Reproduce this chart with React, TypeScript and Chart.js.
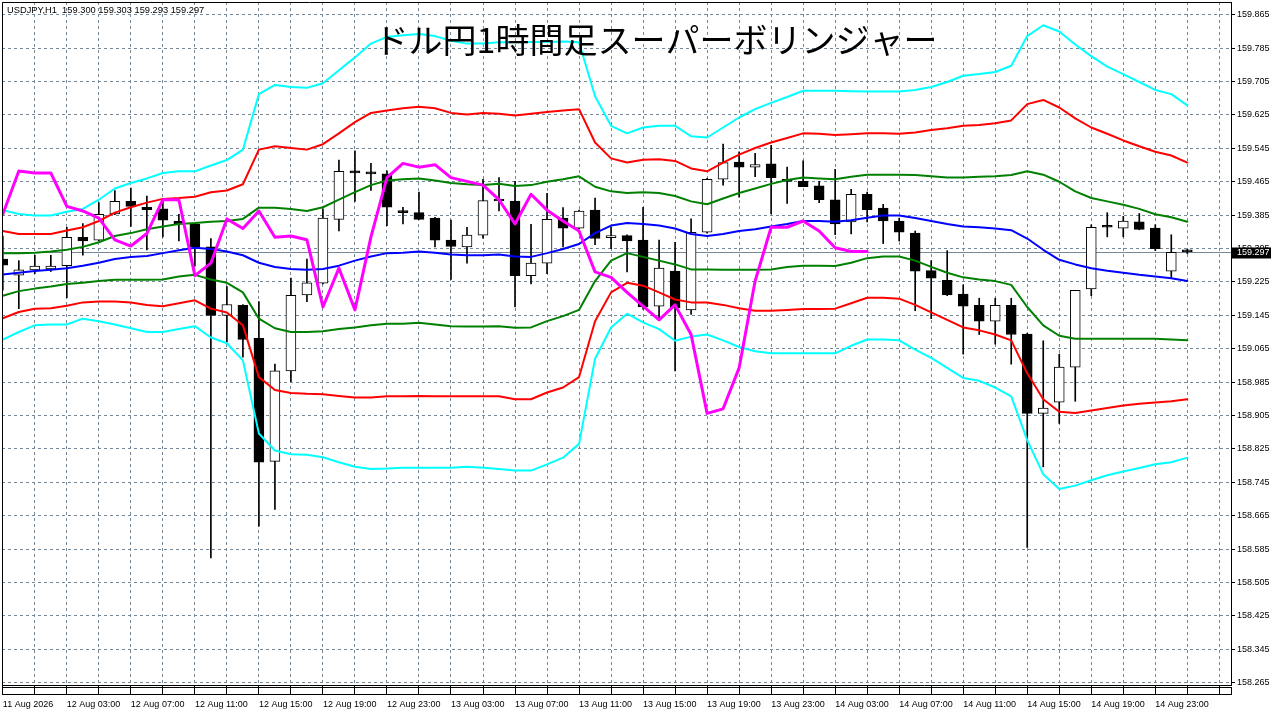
import { useEffect, useRef } from "react";
import { Chart, registerables } from "chart.js";

Chart.register(...registerables);

// USDJPY H1 candles (bar 0 = 11 Aug 23:00)
const opens = [
  159.28, 159.241, 159.254, 159.256, 159.264, 159.332, 159.325, 159.388, 159.418, 159.404,
  159.4, 159.371, 159.364, 159.309, 159.145, 159.169, 159.09, 158.795, 159.012, 159.194,
  159.222, 159.375, 159.491, 159.485, 159.484, 159.392, 159.391, 159.378, 159.325, 159.309,
  159.337, 159.421, 159.419, 159.24, 159.27, 159.378, 159.354, 159.397, 159.331, 159.336,
  159.325, 159.167, 159.251, 159.158, 159.344, 159.471, 159.512, 159.5, 159.508, 159.468,
  159.466, 159.455, 159.422, 159.369, 159.435, 159.402, 159.371, 159.342, 159.252, 159.229,
  159.196, 159.169, 159.131, 159.169, 159.1, 158.91, 158.937, 159.021, 159.208, 159.357,
  159.354, 159.369, 159.354, 159.251, 159.3,
];
const highs = [
  159.335, 159.276, 159.289, 159.289, 159.356, 159.365, 159.415, 159.444, 159.45, 159.431,
  159.422, 159.387, 159.366, 159.329, 159.214, 159.171, 159.178, 159.028, 159.234, 159.28,
  159.4, 159.517, 159.539, 159.509, 159.491, 159.404, 159.44, 159.38, 159.373, 159.356,
  159.471, 159.475, 159.466, 159.363, 159.437, 159.403, 159.397, 159.426, 159.356, 159.338,
  159.404, 159.325, 159.32, 159.376, 159.473, 159.555, 159.537, 159.533, 159.552, 159.5,
  159.515, 159.466, 159.495, 159.447, 159.44, 159.411, 159.378, 159.347, 159.276, 159.3,
  159.218, 159.186, 159.186, 159.186, 159.102, 159.084, 159.052, 159.205, 159.362, 159.391,
  159.382, 159.389, 159.362, 159.338, 159.303,
];
const lows = [
  159.205, 159.161, 159.245, 159.25, 159.187, 159.289, 159.323, 159.386, 159.358, 159.302,
  159.333, 159.323, 159.263, 158.564, 159.081, 159.045, 158.64, 158.68, 158.986, 159.178,
  159.22, 159.347, 159.418, 159.444, 159.36, 159.364, 159.374, 159.309, 159.231, 159.27,
  159.33, 159.395, 159.165, 159.22, 159.245, 159.309, 159.352, 159.314, 159.305, 159.249,
  159.16, 159.138, 159.012, 159.147, 159.342, 159.457, 159.428, 159.477, 159.388, 159.413,
  159.453, 159.415, 159.338, 159.34, 159.369, 159.317, 159.323, 159.156, 159.137, 159.192,
  159.052, 159.099, 159.076, 159.028, 158.589, 158.782, 158.886, 158.939, 159.192, 159.333,
  159.333, 159.35, 159.3, 159.236, 159.293,
];
const closes = [
  159.265, 159.254, 159.263, 159.263, 159.332, 159.323, 159.387, 159.418, 159.406, 159.398,
  159.373, 159.364, 159.309, 159.145, 159.171, 159.087, 158.793, 159.012, 159.193, 159.223,
  159.378, 159.49, 159.486, 159.484, 159.404, 159.391, 159.375, 159.325, 159.31, 159.337,
  159.42, 159.419, 159.24, 159.27, 159.375, 159.354, 159.395, 159.329, 159.336, 159.323,
  159.165, 159.258, 159.163, 159.344, 159.471, 159.511, 159.5, 159.506, 159.475, 159.466,
  159.453, 159.422, 159.364, 159.435, 159.398, 159.371, 159.344, 159.251, 159.234, 159.194,
  159.167, 159.131, 159.169, 159.099, 158.91, 158.923, 159.021, 159.205, 159.356, 159.356,
  159.371, 159.351, 159.305, 159.296, 159.297,
];

// super bollinger bands
const upper3 = [
  159.397, 159.388, 159.384, 159.384, 159.393, 159.4, 159.422, 159.449, 159.462, 159.473,
  159.486, 159.49, 159.49, 159.504, 159.517, 159.542, 159.675, 159.697, 159.692, 159.69,
  159.701, 159.732, 159.763, 159.796, 159.812, 159.816, 159.819, 159.814, 159.803, 159.796,
  159.796, 159.799, 159.799, 159.8, 159.8, 159.801, 159.799, 159.67, 159.599, 159.581,
  159.595, 159.599, 159.599, 159.574, 159.571, 159.595, 159.619, 159.639, 159.654, 159.668,
  159.683, 159.683, 159.683, 159.682, 159.681, 159.681, 159.681, 159.685, 159.692, 159.704,
  159.719, 159.723, 159.728, 159.743, 159.814, 159.84, 159.825, 159.794, 159.766, 159.741,
  159.723, 159.704, 159.685, 159.675, 159.648,
];
const upper2 = [
  159.347, 159.34, 159.34, 159.34, 159.348, 159.356, 159.371, 159.391, 159.404, 159.415,
  159.424, 159.426, 159.429, 159.44, 159.444, 159.459, 159.542, 159.55, 159.546, 159.542,
  159.555, 159.581, 159.608, 159.63, 159.636, 159.641, 159.645, 159.641, 159.63, 159.626,
  159.63, 159.628, 159.624, 159.628, 159.632, 159.636, 159.639, 159.559, 159.521, 159.511,
  159.518, 159.519, 159.515, 159.497, 159.49, 159.511, 159.53, 159.546, 159.559, 159.57,
  159.581, 159.58, 159.577, 159.579, 159.581, 159.581, 159.58, 159.583, 159.589, 159.593,
  159.599, 159.601, 159.605, 159.612, 159.651, 159.661, 159.643, 159.617, 159.595, 159.58,
  159.564, 159.55, 159.537, 159.528, 159.511,
];
const upper1 = [
  159.294, 159.294, 159.295, 159.298, 159.302, 159.309, 159.32, 159.335, 159.342, 159.351,
  159.358, 159.364, 159.366, 159.369, 159.371, 159.376, 159.403, 159.403, 159.4, 159.395,
  159.404, 159.422, 159.44, 159.457, 159.468, 159.471, 159.473, 159.468, 159.462, 159.459,
  159.457, 159.46, 159.455, 159.457, 159.465, 159.471, 159.478, 159.453, 159.442, 159.438,
  159.44, 159.438, 159.431, 159.418, 159.411, 159.425, 159.438, 159.449, 159.46, 159.469,
  159.475, 159.473, 159.471, 159.477, 159.482, 159.482, 159.482, 159.481, 159.478, 159.475,
  159.475, 159.477, 159.478, 159.481, 159.49, 159.482, 159.465, 159.442, 159.426, 159.418,
  159.41, 159.4, 159.387, 159.38, 159.369,
];
const middle = [
  159.243, 159.247, 159.251, 159.254, 159.258, 159.264, 159.271, 159.28, 159.285, 159.287,
  159.294, 159.301, 159.307, 159.304, 159.298, 159.289, 159.271, 159.261, 159.256, 159.254,
  159.256, 159.264, 159.276, 159.286, 159.294, 159.295, 159.298, 159.295, 159.291, 159.289,
  159.289, 159.291, 159.286, 159.285, 159.294, 159.304, 159.316, 159.342, 159.36, 159.366,
  159.364, 159.36, 159.353, 159.34, 159.335, 159.34, 159.347, 159.351, 159.358, 159.364,
  159.371, 159.371, 159.369, 159.373, 159.379, 159.384, 159.384, 159.378, 159.371, 159.364,
  159.358, 159.356, 159.353, 159.349, 159.329, 159.302, 159.278, 159.267, 159.258, 159.252,
  159.247, 159.242, 159.238, 159.234, 159.227,
];
const lower1 = [
  159.192, 159.203, 159.209, 159.214, 159.22, 159.223, 159.227, 159.23, 159.23, 159.23,
  159.231, 159.238, 159.242, 159.231, 159.223, 159.2, 159.137, 159.114, 159.105, 159.105,
  159.107, 159.112, 159.116, 159.121, 159.125, 159.125, 159.127, 159.123, 159.119, 159.118,
  159.118, 159.119, 159.115, 159.116, 159.131, 159.143, 159.158, 159.227, 159.276, 159.294,
  159.285, 159.276, 159.267, 159.255, 159.255, 159.254, 159.254, 159.254, 159.255, 159.261,
  159.264, 159.264, 159.263, 159.271, 159.282, 159.286, 159.286, 159.276, 159.261, 159.247,
  159.236, 159.231, 159.227, 159.218, 159.165, 159.121, 159.096, 159.089, 159.089, 159.089,
  159.089, 159.089, 159.089, 159.087, 159.085,
];
const lower2 = [
  159.138, 159.153, 159.161, 159.162, 159.168, 159.176, 159.178, 159.178, 159.176, 159.17,
  159.167, 159.174, 159.181, 159.161, 159.152, 159.121, 158.997, 158.966, 158.959, 158.957,
  158.956, 158.952, 158.948, 158.948, 158.951, 158.951, 158.952, 158.951, 158.951, 158.951,
  158.951, 158.951, 158.944, 158.944, 158.96, 158.972, 158.997, 159.131, 159.2, 159.223,
  159.216, 159.2, 159.183, 159.176, 159.176, 159.17, 159.162, 159.156, 159.156, 159.158,
  159.16, 159.16, 159.161, 159.174, 159.187, 159.187, 159.185, 159.17, 159.152, 159.134,
  159.116, 159.109, 159.099, 159.085, 159.006, 158.944, 158.914, 158.911, 158.917, 158.923,
  158.929, 158.933, 158.936, 158.939, 158.944,
];
const lower3 = [
  159.087, 159.105, 159.121, 159.123, 159.123, 159.137, 159.131, 159.123, 159.114, 159.105,
  159.105, 159.112, 159.119, 159.092, 159.078, 159.037, 158.862, 158.821, 158.812, 158.811,
  158.805, 158.793, 158.782, 158.777, 158.778, 158.78, 158.78, 158.78, 158.78, 158.782,
  158.78, 158.777, 158.773, 158.773, 158.788, 158.804, 158.837, 159.041, 159.116, 159.149,
  159.128, 159.112, 159.084, 159.094, 159.099, 159.085, 159.069, 159.059, 159.054, 159.054,
  159.054, 159.054, 159.054, 159.072, 159.087, 159.087, 159.085, 159.063, 159.043, 159.019,
  158.995, 158.988, 158.972, 158.951, 158.846, 158.764, 158.729, 158.737, 158.75, 158.762,
  158.771, 158.779, 158.788, 158.793, 158.804,
];
// lagging span (ends 20 bars before the last candle)
const lagging = [
  159.387, 159.491, 159.486, 159.486, 159.406, 159.395, 159.378, 159.326, 159.311, 159.341,
  159.422, 159.422, 159.24, 159.27, 159.376, 159.353, 159.395, 159.332, 159.335, 159.326,
  159.165, 159.258, 159.158, 159.333, 159.475, 159.509, 159.5, 159.506, 159.475, 159.466,
  159.457, 159.422, 159.364, 159.435, 159.397, 159.371, 159.347, 159.249, 159.236, 159.2,
  159.167, 159.134, 159.17, 159.099, 158.91, 158.921, 159.019, 159.227, 159.356, 159.356,
  159.371, 159.347, 159.307, 159.298, 159.298,
];

const timeLabels = [
  "11 Aug 2026", "12 Aug 03:00", "12 Aug 07:00", "12 Aug 11:00", "12 Aug 15:00",
  "12 Aug 19:00", "12 Aug 23:00", "13 Aug 03:00", "13 Aug 07:00", "13 Aug 11:00",
  "13 Aug 15:00", "13 Aug 19:00", "13 Aug 23:00", "14 Aug 03:00", "14 Aug 07:00",
  "14 Aug 11:00", "14 Aug 15:00", "14 Aug 19:00", "14 Aug 23:00",
];
const priceTicks = [
  159.865, 159.785, 159.705, 159.625, 159.545, 159.465, 159.385, 159.305, 159.225, 159.145,
  159.065, 158.985, 158.905, 158.825, 158.745, 158.665, 158.585, 158.505, 158.425, 158.345,
  158.265,
];
const lastPrice = 159.297;
const header = "USDJPY,H1  159.300 159.303 159.293 159.297";
const title = "ドル円1時間足スーパーボリンジャー";

const AXIS_FONT = "'Liberation Sans', Arial, sans-serif";
const AXIS_SIZE = 9;
const GRID = "#778899";
const gridBars = Array.from({ length: 39 }, (_, i) => i * 2);

const pts = (arr: number[]) => arr.map((y, x) => ({ x, y }));

const line = (data: number[], color: string, width: number, order: number) => ({
  type: "line" as const,
  data: pts(data),
  borderColor: color,
  borderWidth: width,
  pointRadius: 0,
  tension: 0,
  fill: false,
  borderJoinStyle: "round" as const,
  borderCapStyle: "round" as const,
  order,
});

const noPad = (s: any) => {
  s.paddingTop = 0;
  s.paddingBottom = 0;
  s.paddingLeft = 0;
  s.paddingRight = 0;
};

const decor = {
  id: "decor",
  beforeDatasetsDraw(chart: any) {
    const { ctx, chartArea, scales } = chart;
    const y = Math.round(scales.y.getPixelForValue(lastPrice)) + 0.5;
    ctx.save();
    ctx.strokeStyle = GRID;
    ctx.lineWidth = 1;
    ctx.beginPath();
    ctx.moveTo(chartArea.left, y);
    ctx.lineTo(chartArea.right, y);
    ctx.stroke();
    ctx.restore();
  },
  afterDraw(chart: any) {
    const { ctx, chartArea, scales } = chart;
    const { left, right, top, bottom } = chartArea;
    ctx.save();
    ctx.strokeStyle = "#000";
    ctx.lineWidth = 1;
    ctx.beginPath();
    ctx.moveTo(left + 0.5, bottom);
    ctx.lineTo(left + 0.5, top + 0.5);
    ctx.lineTo(right, top + 0.5);
    ctx.stroke();
    ctx.strokeRect(left + 0.5, bottom + 2.5, right - left, 7);

    // last price marker
    const y = Math.round(scales.y.getPixelForValue(lastPrice)) + 0.5;
    ctx.fillStyle = "#000";
    ctx.fillRect(right + 1, y - 5, 39, 11);
    ctx.fillStyle = "#fff";
    ctx.font = `${AXIS_SIZE}px ${AXIS_FONT}`;
    ctx.textAlign = "left";
    ctx.textBaseline = "middle";
    ctx.fillText(lastPrice.toFixed(3), right + 6, y + 0.5);

    ctx.fillStyle = "#000";
    ctx.font = `9.3px ${AXIS_FONT}`;
    ctx.fillText(header, 7, 10);

    ctx.font = "34px 'Noto Sans CJK JP', sans-serif";
    ctx.textAlign = "center";
    ctx.fillText(title, 656, 40);
    ctx.restore();
  },
};

function CandleChart() {
  const ref = useRef<HTMLCanvasElement>(null);
  useEffect(() => {
    const chart = new Chart(ref.current!, {
      type: "bar",
      data: {
        datasets: [
          line(lagging, "#ff00ff", 3, 0),
          line(upper3, "#00ffff", 2, 1),
          line(lower3, "#00ffff", 2, 1),
          line(upper2, "#ff0000", 2, 2),
          line(lower2, "#ff0000", 2, 2),
          line(upper1, "#008000", 2, 3),
          line(lower1, "#008000", 2, 3),
          line(middle, "#0000ff", 2, 4),
          {
            type: "bar",
            data: opens.map((o, i) => ({ x: i, y: [o, closes[i]] })),
            backgroundColor: opens.map((o, i) => (closes[i] >= o ? "#ffffff" : "#000000")),
            borderColor: "#000",
            borderWidth: 1,
            borderSkipped: false,
            barThickness: 10,
            minBarLength: 2,
            grouped: false,
            order: 8,
          } as any,
          {
            type: "bar",
            data: lows.map((l, i) => ({ x: i, y: [l, highs[i]] })),
            backgroundColor: "#000",
            borderWidth: 0,
            barThickness: 1,
            grouped: false,
            order: 9,
          } as any,
        ],
      },
      options: {
        animation: false,
        responsive: true,
        maintainAspectRatio: false,
        events: [],
        layout: { padding: { left: 2, top: 2, right: 0, bottom: 0 } },
        plugins: { legend: { display: false }, tooltip: { enabled: false } },
        scales: {
          x: {
            type: "linear",
            min: -0.05,
            max: 76.73,
            offset: false,
            afterBuildTicks: (s: any) => {
              s.ticks = gridBars.map((v) => ({ value: v }));
            },
            afterFit: (s: any) => {
              s.height = 31;
              noPad(s);
            },
            grid: { color: GRID, offset: false, tickLength: 10, tickColor: "#000" },
            border: { display: true, color: "#000", width: 1, dash: [3, 3] },
            ticks: {
              autoSkip: false,
              maxRotation: 0,
              minRotation: 0,
              align: "start",
              padding: 4,
              color: "#000",
              font: { family: AXIS_FONT, size: AXIS_SIZE },
              callback: (v: any) => (v % 4 === 0 ? timeLabels[v / 4] ?? "" : ""),
            },
          },
          y: {
            type: "linear",
            position: "right",
            min: 158.2593,
            max: 159.8957,
            afterBuildTicks: (s: any) => {
              s.ticks = priceTicks.map((v) => ({ value: v }));
            },
            afterFit: (s: any) => {
              s.width = 46;
              noPad(s);
            },
            grid: { color: GRID, tickLength: 4, tickColor: "#000" },
            border: { display: true, color: "#000", width: 1, dash: [3, 3] },
            ticks: {
              padding: 2,
              color: "#000",
              font: { family: AXIS_FONT, size: AXIS_SIZE },
              callback: (v: any) => Number(v).toFixed(3),
            },
          },
        },
      },
      plugins: [decor],
    });
    return () => chart.destroy();
  }, []);
  return <canvas ref={ref} />;
}

export default function App() {
  return (
    <div style={{ position: "absolute", left: 0, top: 0, width: 1277, height: 716, background: "#fff" }}>
      <CandleChart />
    </div>
  );
}
